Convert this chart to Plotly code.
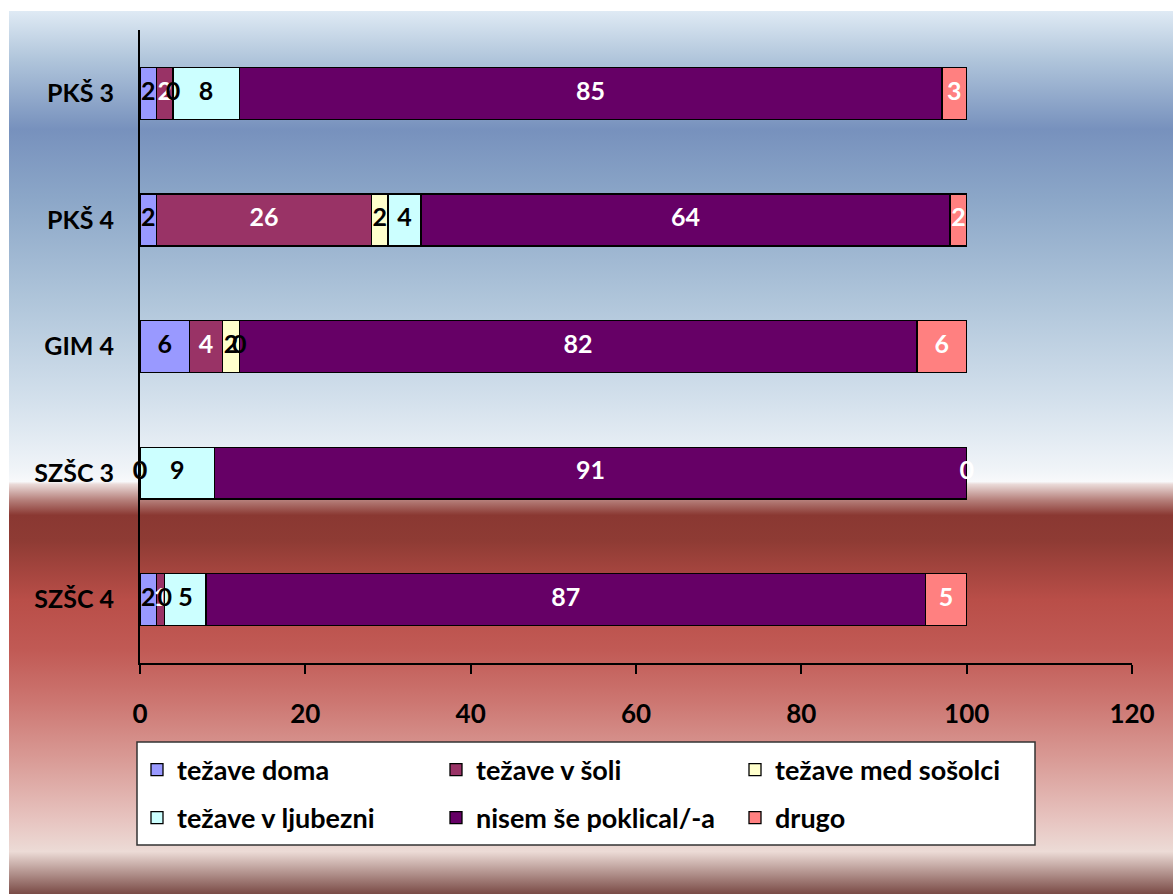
import base64
import plotly.graph_objects as go

categories = ["PKŠ 3", "PKŠ 4", "GIM 4", "SZŠC 3", "SZŠC 4"]
series_names = ["težave doma", "težave v šoli", "težave med sošolci",
                "težave v ljubezni", "nisem še poklical/-a", "drugo"]
tezave_doma = [2, 2, 6, 0, 2]
tezave_v_soli = [2, 26, 4, 0, 1]
tezave_med_sosolci = [0, 2, 2, 0, 0]
tezave_v_ljubezni = [8, 4, 0, 9, 5]
nisem_se_poklical = [85, 64, 82, 91, 87]
drugo = [3, 2, 6, 0, 5]
series_values = [tezave_doma, tezave_v_soli, tezave_med_sosolci,
                 tezave_v_ljubezni, nisem_se_poklical, drugo]
x_ticks = [0, 20, 40, 60, 80, 100, 120]

colors = ["#9999ff", "#993366", "#ffffcc", "#ccffff", "#660066", "#ff8080"]
label_colors = ["black", "white", "black", "black", "white", "white"]
legend_ids = ["legend", "legend", "legend", "legend2", "legend2", "legend2"]
FONT = "Lato"

fig = go.Figure()
for name, vals, col, lg in zip(series_names, series_values, colors, legend_ids):
    fig.add_trace(go.Bar(
        name=name, y=categories, x=vals, orientation="h",
        marker=dict(color=col, line=dict(color="black", width=1.3)),
        width=0.41, hoverinfo="skip", legend=lg,
    ))

# data labels (including zero values) at segment midpoints
cum = [0] * len(categories)
for vals, lc in zip(series_values, label_colors):
    xs = [c + v / 2 for c, v in zip(cum, vals)]
    fig.add_trace(go.Scatter(
        x=xs, y=categories, mode="text", text=[str(v) for v in vals],
        textposition="middle center",
        textfont=dict(family=FONT, size=25, color=lc, weight="bold"),
        showlegend=False, hoverinfo="skip", cliponaxis=False,
    ))
    cum = [c + v for c, v in zip(cum, vals)]

# background gradient
stops = [
    (0.000, "#dfeaf4"), (0.055, "#b0c5db"), (0.134, "#7791bd"),
    (0.214, "#8ca7c8"), (0.327, "#afc5da"), (0.440, "#d3e0ec"),
    (0.520, "#f0f4f8"), (0.533, "#f8f9fb"), (0.536, "#eadad8"),
    (0.554, "#b57f7a"), (0.571, "#8a3832"), (0.599, "#8e3b34"),
    (0.667, "#b94e48"), (0.724, "#c15a55"), (0.780, "#cc7570"),
    (0.848, "#d99b96"), (0.916, "#e7c4c0"), (0.952, "#ecdbd6"),
    (1.000, "#7a4b46"),
]
stop_xml = "".join(f'<stop offset="{o}" stop-color="{c}"/>' for o, c in stops)
svg = ('<svg xmlns="http://www.w3.org/2000/svg" width="1164" height="883" '
       'preserveAspectRatio="none" viewBox="0 0 1164 883">'
       f'<defs><linearGradient id="g" x1="0" y1="0" x2="0" y2="1">{stop_xml}'
       '</linearGradient></defs><rect width="1164" height="883" fill="url(#g)"/></svg>')
uri = "data:image/svg+xml;base64," + base64.b64encode(svg.encode()).decode()

L, R, T, B = 140, 1132, 30, 663
W, H = R - L, B - T


def px(x):
    return (x - L) / W


def py(y):
    return (B - y) / H


fig.add_layout_image(dict(
    source=uri, xref="paper", yref="paper", x=px(9), y=py(11),
    sizex=(1173 - 9) / W, sizey=(894 - 11) / H, sizing="stretch",
    xanchor="left", yanchor="top", layer="below",
))

# legend box
fig.add_shape(type="rect", xref="paper", yref="paper",
              x0=px(137), x1=px(1035), y0=py(845), y1=py(742),
              fillcolor="white", line=dict(color="#333333", width=1.5),
              layer="below")

legend_common = dict(
    orientation="h", xanchor="left", yanchor="middle",
    bgcolor="rgba(0,0,0,0)", borderwidth=0, entrywidth=254,
    font=dict(family=FONT, size=27, color="black", weight="bold"),
    traceorder="normal", itemclick=False, itemdoubleclick=False,
)

fig.update_layout(
    width=1173, height=894,
    margin=dict(l=L, r=1173 - R, t=T, b=894 - B),
    barmode="stack", bargap=0.59,
    paper_bgcolor="white", plot_bgcolor="rgba(0,0,0,0)",
    font=dict(family=FONT, color="black"),
    showlegend=True,
    legend=dict(x=px(137), y=py(770), **legend_common),
    legend2=dict(x=px(137), y=py(818), **legend_common),
    xaxis=dict(
        range=[0, 120], tickvals=x_ticks, ticktext=[str(t) for t in x_ticks],
        showgrid=False, zeroline=False, showline=True, linecolor="black",
        linewidth=2, ticks="outside", ticklen=9, tickwidth=2, tickcolor="black",
        tickfont=dict(family=FONT, size=26, weight="bold"), ticklabelstandoff=18,
    ),
    yaxis=dict(
        categoryorder="array", categoryarray=categories, autorange="reversed",
        showgrid=False, zeroline=False, showline=True, linecolor="black",
        linewidth=2, ticks="", tickfont=dict(family=FONT, size=25, weight="bold"),
        ticklabelstandoff=19,
    ),
)

fig.write_html("out.html")
